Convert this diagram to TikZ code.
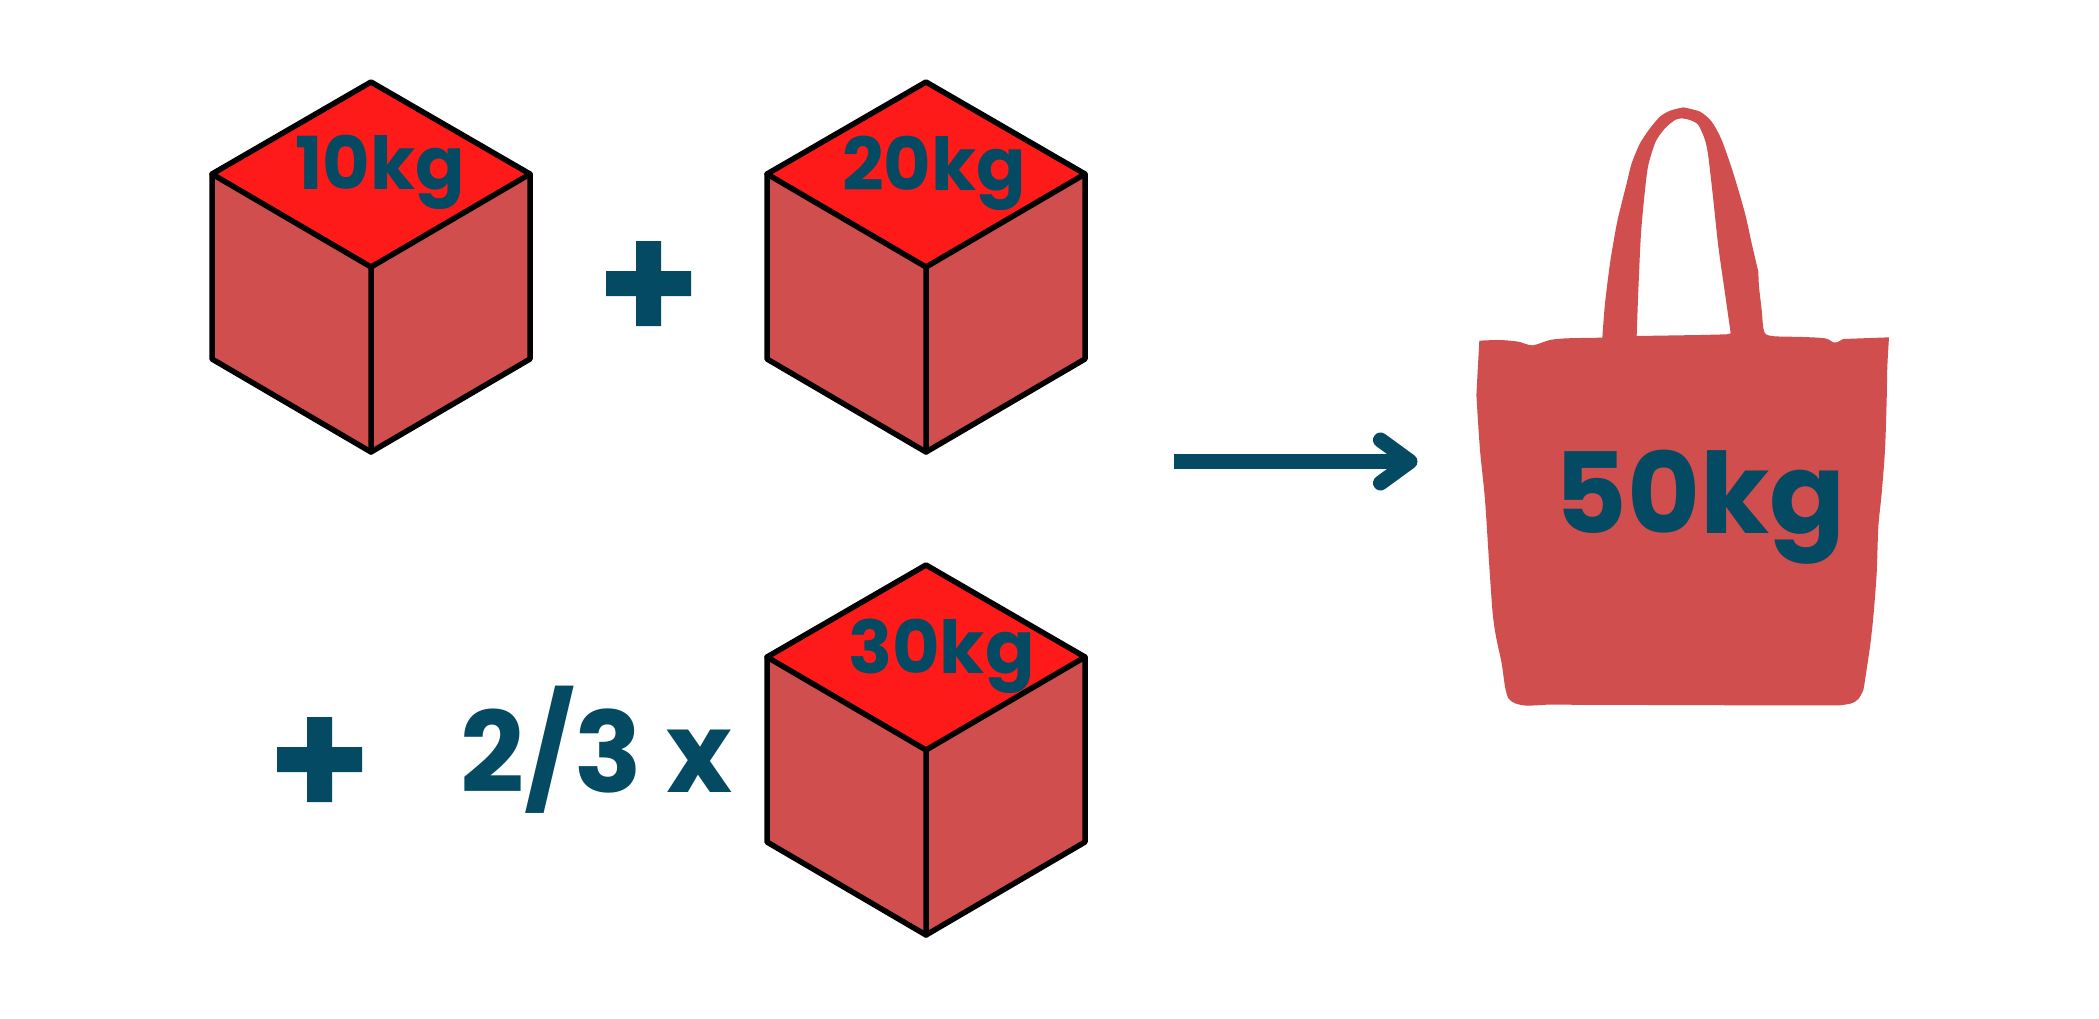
\documentclass[tikz,border=0pt]{standalone}
\usepackage{fontspec}
\setmainfont{Poppins}[BoldFont={Poppins Bold}]
\definecolor{bagred}{HTML}{D14E4E}
\definecolor{topred}{HTML}{FF1A1A}
\definecolor{ink}{HTML}{034A62}
\tikzset{
  facefill/.style={fill=bagred,draw=none},
  edge/.style={draw=black,line width=5.5pt,line join=round,line cap=round},
  cube/.pic={
    \fill[bagred] (-159,92)--(0,0)--(159,92)--(159,277)--(0,370)--(-159,277)--cycle;
    \path[fill=topred] (0,0)--(159,92)--(0,185)--(-159,92)--cycle;
    \draw[edge] (0,0)--(159,92)--(159,277)--(0,370)--(-159,277)--(-159,92)--cycle;
    \draw[edge] (-159,92)--(0,185)--(159,92) (0,185)--(0,370);
  },
  weight/.style={inner sep=0pt,anchor=base west,text=ink,font=\fontsize{73}{73}\selectfont\bfseries},
  bigweight/.style={inner sep=0pt,anchor=base west,text=ink,font=\fontsize{112}{112}\selectfont\bfseries},
  plusbar/.style={fill=ink,draw=none},
  arrowline/.style={draw=ink,line width=15pt},
  arrowhead/.style={draw=ink,line width=15pt,line cap=round,line join=round}
}
\begin{document}
\begin{tikzpicture}[x=1pt,y=-1pt]
\useasboundingbox[fill=white] (0,0) rectangle (2099,1018);
% cubes
\pic at (371,82) {cube};
\pic at (926,82) {cube};
\pic at (926,565) {cube};
% bag
\begin{scope}[x=0.33333pt,y=-0.33333pt,shift={(1450pt,-90pt)}]
\fill[bagred,even odd rule]
  plot[smooth,tension=.45] coordinates {(700,52)(750,65)(785,95)(815,150)(850,250)(885,370)(905,460)(925,545)}
  -- plot[smooth,tension=.45] coordinates {(925,545)(927,590)(935,660)(940,715)(948,733)(975,739)(1060,741)(1125,745)(1150,757)(1160,757)(1180,747)}
  -- (1317,742)
  -- plot[smooth,tension=.45] coordinates {(1317,742)(1312,830)(1310,930)(1305,1080)(1295,1210)(1285,1310)(1280,1450)(1270,1580)(1260,1670)(1245,1770)(1240,1800)(1225,1827)(1205,1840)(1170,1846)}
  -- (900,1846) -- (290,1844)
  -- plot[smooth,tension=.45] coordinates {(290,1844)(230,1847)(195,1840)(175,1825)(165,1790)(155,1720)(138,1640)(128,1570)(118,1430)(105,1230)(90,1080)(80,930)(80,900)(88,752)}
  -- plot[smooth,tension=.45] coordinates {(88,752)(150,750)(205,755)(247,766)(300,750)(350,745)(457,743)}
  -- plot[smooth,tension=.45] coordinates {(457,743)(465,640)(480,520)(495,430)(505,380)(530,280)(545,220)(570,160)(600,115)(630,80)(660,62)(700,52)}
  -- cycle
  plot[smooth,tension=.45] coordinates {(695,85)(720,90)(745,105)(765,150)(775,200)(790,330)(805,470)(825,610)(842,730)}
  -- (830,733) -- (750,735) -- (560,738)
  -- plot[smooth,tension=.45] coordinates {(560,738)(565,600)(573,430)(585,300)(595,225)(617,155)(645,115)(675,90)(695,85)}
  -- cycle;
\end{scope}
% labels
\node[weight] (w10) at (295,189) {10kg};
\node[weight] (w20) at (842,190) {20kg};
\node[weight] (w30) at (848,673) {30kg};
\node[bigweight] (w50) at (1554,533) {50kg};
\node[bigweight] (frac) at (460,792) {2/3 x};
% plus signs
\fill[plusbar] (606,271) rectangle (691,296) (636,241) rectangle (661,326);
\fill[plusbar] (277,747) rectangle (362,772) (307,717) rectangle (332,802);
% arrow
\coordinate (arrowstart) at (1174,461.5);
\coordinate (arrowtip) at (1410,461.5);
\coordinate (headup) at (1380.5,440);
\coordinate (headdown) at (1380.5,483);
\draw[arrowline] (arrowstart) -- (arrowtip);
\draw[arrowhead] (headup) -- (arrowtip) -- (headdown);
\end{tikzpicture}
\end{document}
